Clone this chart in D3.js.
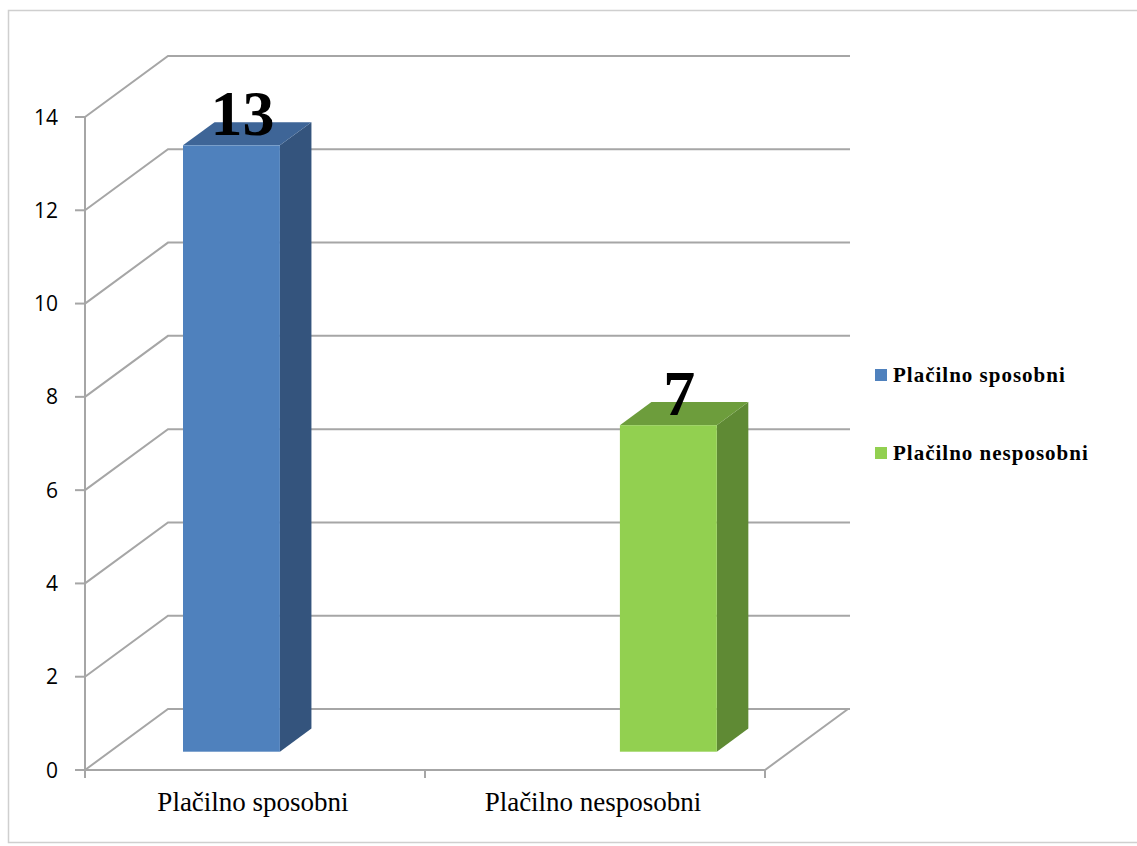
<!DOCTYPE html>
<html>
<head>
<meta charset="utf-8">
<script src="https://cdn.jsdelivr.net/npm/d3@7/dist/d3.min.js"></script>
<style>
  html, body { margin: 0; padding: 0; background: #ffffff; }
  svg { display: block; }
</style>
</head>
<body>
<svg id="chart" width="1137" height="846"></svg>
<script>
// Categories, series and values
const categories = ["Plačilno sposobni", "Plačilno nesposobni"];
const seriesNames = ["Plačilno sposobni", "Plačilno nesposobni"];
const seriesValues = [
  [13, 0],   // Plačilno sposobni
  [0, 7]     // Plačilno nesposobni
];
const yTicks = [0, 2, 4, 6, 8, 10, 12, 14];

// Face colours per series: front, side, top
const frontColors = ["#4f81bd", "#92d050"];
const sideColors  = ["#34547d", "#5f8a34"];
const topColors   = ["#3e6597", "#6d9d3c"];

const svg = d3.select("#chart");

// Outer frame
svg.append("rect")
  .attr("x", 8.5).attr("y", 10.5)
  .attr("width", 1140).attr("height", 832)
  .attr("fill", "none")
  .attr("stroke", "#cfcfcf")
  .attr("stroke-width", 1.5);

// Front plane of the 3D plot
const plotLeft = 85, plotRight = 765, plotBase = 770, plotTop = 117;
// Depth of the floor/wall box
const depthX = 83, depthY = -61;
// Bars sit between these fractions of the depth
const barD0 = 0.30, barD1 = 0.68;

const y = d3.scaleLinear().domain([0, 14]).range([plotBase, plotTop]);
const x0 = d3.scaleBand().domain(categories).range([plotLeft, plotRight])
  .paddingInner(0.43).paddingOuter(0.215);
const x1 = d3.scaleBand().domain(seriesNames).range([0, x0.bandwidth()]);

const grid = svg.append("g")
  .attr("stroke", "#a6a6a6")
  .attr("stroke-width", 2)
  .attr("fill", "none");

// Side wall diagonals and back wall lines
yTicks.forEach(t => {
  const yy = y(t);
  grid.append("path")
    .attr("d", `M${plotLeft},${yy}L${plotLeft + depthX},${yy + depthY}L${plotRight + depthX + 2},${yy + depthY}`);
});
// Floor: front edge and right diagonal
grid.append("path")
  .attr("d", `M${plotLeft},${plotBase}L${plotRight},${plotBase}L${plotRight + depthX},${plotBase + depthY}`);
// Vertical axis line
grid.append("line")
  .attr("x1", plotLeft).attr("x2", plotLeft)
  .attr("y1", y(0)).attr("y2", y(14));
// Y ticks
yTicks.forEach(t => {
  grid.append("line")
    .attr("x1", plotLeft - 10).attr("x2", plotLeft)
    .attr("y1", y(t)).attr("y2", y(t));
});
// Category boundary ticks
[plotLeft, (plotLeft + plotRight) / 2, plotRight].forEach(xx => {
  grid.append("line")
    .attr("x1", xx).attr("x2", xx)
    .attr("y1", plotBase).attr("y2", plotBase + 8);
});

// Y tick labels
svg.append("g").selectAll("text")
  .data(yTicks).join("text")
  .attr("x", 58)
  .attr("y", d => y(d))
  .attr("dy", "0.36em")
  .attr("text-anchor", "end")
  .attr("font-family", "'Open Sans', sans-serif")
  .attr("font-size", 21)
  .attr("fill", "#000")
  .text(d => d);

// Category labels
svg.append("g").selectAll("text")
  .data(categories).join("text")
  .attr("x", d => x0(d) + x0.bandwidth() / 2 - 2)
  .attr("y", 811)
  .attr("text-anchor", "middle")
  .attr("font-family", "'Liberation Serif', 'Times New Roman', serif")
  .attr("font-size", 27)
  .attr("fill", "#000")
  .text(d => d);

// Bars
const bars = [];
seriesNames.forEach((s, si) => {
  categories.forEach((c, ci) => {
    const v = seriesValues[si][ci];
    if (v > 0) bars.push({ s, si, c, v });
  });
});

const fx = depthX * barD0, fy = depthY * barD0;
const bx = depthX * barD1, by = depthY * barD1;
const sdx = bx - fx, sdy = by - fy;

const barG = svg.append("g");
bars.forEach(b => {
  const xl = x0(b.c) + x1(b.s) + fx;
  const xr = xl + x1.bandwidth();
  const yb = y(0) + fy;
  const yt = y(b.v) + fy;
  // side face
  barG.append("path")
    .attr("d", `M${xr},${yb}L${xr + sdx},${yb + sdy}L${xr + sdx},${yt + sdy}L${xr},${yt}Z`)
    .attr("fill", sideColors[b.si]);
  // top face
  barG.append("path")
    .attr("d", `M${xl},${yt}L${xl + sdx},${yt + sdy}L${xr + sdx},${yt + sdy}L${xr},${yt}Z`)
    .attr("fill", topColors[b.si]);
  // front face
  barG.append("rect")
    .attr("x", xl).attr("y", yt)
    .attr("width", xr - xl).attr("height", yb - yt)
    .attr("fill", frontColors[b.si]);
  // value label
  barG.append("text")
    .attr("x", (xl + xr) / 2 + 11)
    .attr("y", yt - 10)
    .attr("text-anchor", "middle")
    .attr("font-family", "'Liberation Serif', 'Times New Roman', serif")
    .attr("font-weight", "bold")
    .attr("font-size", 64)
    .attr("fill", "#000")
    .text(b.v);
});

// Legend
const legend = svg.append("g").selectAll("g")
  .data(seriesNames).join("g")
  .attr("transform", (d, i) => `translate(875, ${369 + i * 78})`);
legend.append("rect")
  .attr("width", 12).attr("height", 12)
  .attr("fill", (d, i) => frontColors[i]);
legend.append("text")
  .attr("x", 18).attr("y", 13)
  .attr("font-family", "'Liberation Serif', 'Times New Roman', serif")
  .attr("font-weight", "bold")
  .attr("font-size", 21)
  .attr("letter-spacing", 1)
  .attr("fill", "#000")
  .text(d => d);
</script>
</body>
</html>
